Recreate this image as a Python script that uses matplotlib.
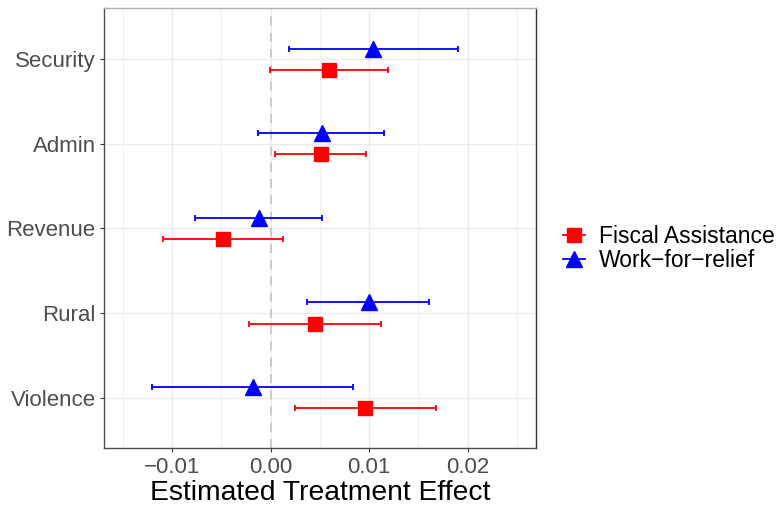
import numpy as np
import matplotlib.pyplot as plt
from matplotlib.lines import Line2D

plt.rcParams['font.family'] = ['Liberation Sans', 'DejaVu Sans']

# outcomes, top to bottom
outcomes = ["Security", "Admin", "Revenue", "Rural", "Violence"]

# Fiscal Assistance (red squares)
fiscal_est = [0.0059, 0.0051, -0.0048, 0.0045, 0.0096]
fiscal_lo = [-0.0001, 0.0004, -0.0109, -0.0022, 0.0025]
fiscal_hi = [0.0119, 0.0097, 0.0013, 0.0112, 0.0168]

# Work-for-relief (blue triangles)
work_est = [0.0104, 0.0052, -0.0012, 0.0100, -0.0018]
work_lo = [0.0019, -0.0013, -0.0077, 0.0037, -0.0120]
work_hi = [0.0190, 0.0115, 0.0052, 0.0161, 0.0084]

xticks = [-0.01, 0.0, 0.01, 0.02]
xtick_labels = ["\u22120.01", "0.00", "0.01", "0.02"]

fig = plt.figure(figsize=(7.76, 5.08), dpi=100)
ax = fig.add_axes([0.134, 0.1175, 0.5567, 0.8661])

ypos = np.arange(len(outcomes))[::-1] + 1.0
dodge = 0.125

def draw(est, lo, hi, y, color, marker, ms):
    est = np.array(est)
    xerr = np.vstack([est - np.array(lo), np.array(hi) - est])
    ax.errorbar(est, y, xerr=xerr, fmt='none', ecolor=color, elinewidth=1.3,
                capsize=2, capthick=1.3, zorder=3)
    ax.plot(est, y, linestyle='none', marker=marker, color=color, ms=ms, zorder=4)

draw(fiscal_est, fiscal_lo, fiscal_hi, ypos - dodge, 'red', 's', 9.5)
draw(work_est, work_lo, work_hi, ypos + dodge, 'blue', '^', 12)

ax.axvline(0, color='#c8c8c8', linestyle=(0, (5, 4)), linewidth=1.3, zorder=2)

ax.set_xlim(-0.01692, 0.02693)
ax.set_ylim(0.4, 5.6)
ax.set_xticks(xticks)
ax.set_xticklabels(xtick_labels)
ax.set_xticks([-0.015, -0.005, 0.005, 0.015, 0.025], minor=True)
ax.set_yticks(ypos)
ax.set_yticklabels(outcomes)

ax.grid(True, which='major', color='#ebebeb', linewidth=1.0, zorder=0)
ax.grid(True, which='minor', axis='x', color='#f2f2f2', linewidth=0.8, zorder=0)
ax.set_axisbelow(True)
ax.tick_params(which='minor', length=0)
ax.tick_params(which='major', length=3, color='#333333', labelsize=16,
               labelcolor='#4d4d4d', pad=3)
for s in ax.spines.values():
    s.set_color('#4d4d4d')
    s.set_linewidth(1.0)
ax.spines['top'].set_color('#b0b0b0')
ax.spines['right'].set_color('#333333')

ax.set_xlabel("Estimated Treatment Effect", fontsize=20.3, color='black', labelpad=2)

handles = [
    Line2D([], [], color='red', marker='s', ms=9.5, lw=1.3),
    Line2D([], [], color='blue', marker='^', ms=12, lw=1.3),
]
fig.legend(handles, ["Fiscal Assistance", "Work\u2212for\u2212relief"],
           loc='center left', bbox_to_anchor=(563 / 776, 0.5108),
           frameon=False, fontsize=16.5, borderpad=0, borderaxespad=0,
           handlelength=0.95, handletextpad=0.6, labelspacing=0.05)

fig.savefig("out.png", dpi=100)
